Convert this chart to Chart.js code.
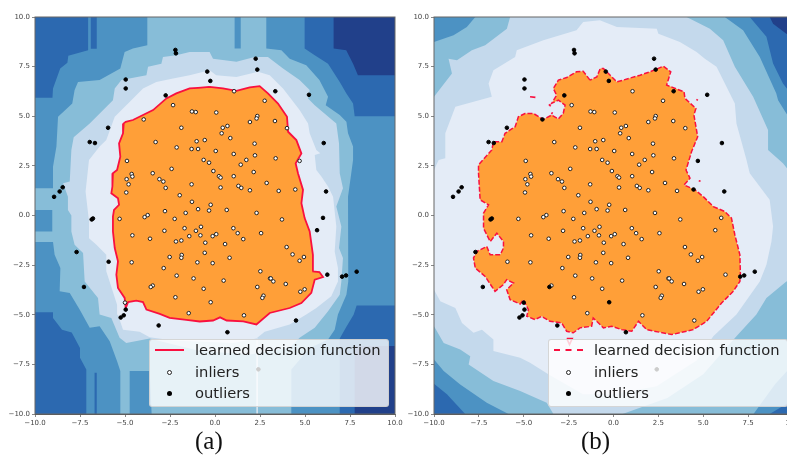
<!DOCTYPE html>
<html>
<head>
<meta charset="utf-8">
<script src="https://cdn.jsdelivr.net/npm/chart.js@4"></script>
<style>
html, body { margin: 0; background: #fff; overflow: hidden; width: 787px; height: 457px; }
canvas { position: absolute; top: 0; }
#chartA { left: 0; }
#chartB { left: 398px; }
.cap { position: absolute; top: 427px; font: 25px "Liberation Serif", serif; color: #111; }
.box { position: absolute; top: 339px; height: 66px; background: rgba(255,255,255,0.8); border: 1px solid rgba(204,204,204,0.8); border-radius: 3px; font: 14.7px "DejaVu Sans", sans-serif; color: #222; }
.row { position: absolute; left: 45px; white-space: nowrap; line-height: 20px; }
.key { position: absolute; box-sizing: border-box; }
</style>
</head>
<body>
<canvas id="chartA" width="420" height="440"></canvas>
<canvas id="chartB" width="420" height="440"></canvas>
<div class="cap" style="left:195px">(a)</div>
<div class="cap" style="left:581px">(b)</div>
<div class="box" style="left:149px;width:238px" id="boxA"></div>
<div class="box" style="left:548px;width:238px" id="boxB"></div>
<script>
var legendLabels = ['learned decision function', 'inliers', 'outliers'];
var tickValues = [-10, -7.5, -5, -2.5, 0, 2.5, 5, 7.5, 10];

// points that are the same kind in both panels
var inliersBoth = [[-2.33,5.56],[-1.28,5.24],[-1.07,5.21],[-1.87,4.42],[-3.3,3.7],[-2.13,3.43],[-1.3,3.35],[-0.94,3.35],[-1.02,3.74],[-0.57,3.8],[-4.89,2.75],[-0.63,2.8],[-0.33,2.66],[-0.09,2.24],[-2.41,2.35],[-3.46,2.13],[-4.63,2.09],[-4.59,1.96],[-4.91,1.83],[-4.8,1.57],[-3.09,1.83],[-2.87,1.71],[-2.74,1.39],[-1.3,1.57],[-4.93,1.16],[-1.96,1.02],[-1.28,0.69],[-0.24,0.54],[-2.78,0.22],[-1.63,0.13],[-0.94,0.32],[-0.33,0.25],[-3.74,0.02],[-3.91,-0.08],[-2.24,-0.17],[-5.3,-0.17],[-1.69,-0.64],[-0.78,-0.57],
[1.06,6.26],[2.76,5.78],[0.07,5.19],[2.35,5.01],[2.31,4.89],[1.94,4.71],[3.33,4.76],[0.69,4.51],[0.43,4.42],[0.37,4.14],[4,4.4],[0.85,3.9],[2.2,3.62],[0.04,3.25],[1.04,3.1],[2.22,3.03],[1.74,2.8],[3.37,2.88],[1.43,2.56],[0.22,1.98],[0.31,1.91],[1.04,1.98],[2.15,2.19],[2.87,1.64],[0.31,1.41],[1.3,1.49],[1.46,1.39],[1.94,1.27],[3.54,1.24],[0.65,0.28],[2.31,0.13],[3.72,-0.2],[1.02,-0.64],
[1.26,-0.89],[0.07,-0.94],[-0.13,-1.04],[-0.81,-1],[1.57,-1.19],[2.56,-0.89],[-0.54,-1.37],[0.56,-1.44],[-0.57,-1.88],[3.98,-1.59],[4.31,-1.96],[4.94,-2.09],[4.7,-2.28],[0.81,-2.13],[-0.13,-2.4],[2.52,-2.81],[3.06,-3.17],[3.1,-3.17],[3.24,-3.32],[0.48,-3.28],[3.93,-3.45],[2.35,-3.6],[-0.63,-3.69],[4.74,-3.84],[4.98,-3.72],[2.69,-4.04],[2.63,-4.15],[1.61,-5.03],
[-4.59,-1],[-3.61,-1.17],[-2.81,-0.77],[-2.17,-1.31],[-1.87,-1.26],[-1.43,-1.04],[-1.06,-0.77],[-2.52,-2.09],[-1.85,-1.99],[-1.87,-2.13],[-0.98,-2.36],[-4.63,-2.36],[-2.85,-2.65],[-2.13,-3.03],[-1.19,-3.17],[-3.46,-3.53],[-2.2,-4.12],[-1.46,-4.92]];
var outliersBoth = [[-2.2,8.34],[-2.17,8.17],[-0.43,7.25],[-0.26,6.78],[-4.96,6.85],[-4.96,6.4],[-2.74,6.05],[-5.94,4.42],[-6.96,3.7],[-6.67,3.65],[-8.46,1.42],[-8.63,1.21],[-8.94,0.94],[-6.78,-0.15],[-6.85,-0.2],
[2.26,7.9],[2.35,7.35],[3.35,6.26],[5.22,6.08],[6.04,3.65],[6.17,1.21],[-7.69,-1.84],[-7.28,-3.6],[-4.96,-4.74],[-5.07,-5.03],[-5.24,-5.14],[-3.13,-5.54],[7.06,-3.08],[7.28,-3.02],[7.87,-2.83],[0.69,-5.88],[2.41,-7.75]];
// points that change kind between (a) and (b)
var inlierInA = [[-3.96,4.84],[-3.57,-3.6],[-5,-4.39],[4.7,2.75],[4.46,1.31],[-0.24,-4.37]];
var outlierInA = [[-5.91,-2.33],[5.67,-0.74],[6,-0.12],[6.24,-2.98],[4.5,-5.29]];

// contour levels of panel (a)
var a_base = [[-10,10],[10,10],[10,-10],[-10,-10]];
var a_darkTL = [[-10,10],[-7.05,10],[-7.05,8.33],[-8.15,8.05],[-8.2,7.7],[-8.6,7.4],[-9,6.4],[-9.03,5.93],[-10,5.93]];
var a_darkStrip = [[-6.9,10],[-6.57,10],[-6.57,8.4],[-6.9,8.4]];
var a_darkTR = [[4.98,10],[4.98,8.41],[5.54,8.07],[6.28,7.65],[6.93,6.73],[7.3,6.15],[7.67,5.64],[7.76,5],[10,5],[10,10]];
var a_darkBR = [[7.87,-4.54],[10,-4.54],[10,-10],[6.93,-10],[6.93,-6.2],[7.3,-5.6],[7.7,-5]];
var a_darkBL = [[-10,-4.88],[-9,-4.88],[-9,-5.16],[-8.5,-5.75],[-7.96,-5.9],[-7.5,-6.67],[-7.5,-7.17],[-7.15,-7.76],[-7.15,-10],[-10,-10]];
var a_darkStrip2 = [[-6.69,-7.92],[-6.57,-7.92],[-6.57,-10],[-6.69,-10]];
var a_navyTR = [[6.59,10],[6.59,8.41],[7.29,8.33],[7.67,7.65],[7.94,7.07],[10,7.07],[10,10]];
var a_navyBR = [[7.76,-6.58],[10,-6.58],[10,-10],[7.76,-10]];
var a_sky = [[-3.76,10],[1.09,10],[1.09,8.41],[1.43,8.41],[1.43,10],[2.85,10],[2.85,8.41],[3.69,8.32],[4.15,7.9],[5.07,7.57],[5.8,6.82],[6.28,5.98],[6.15,5.56],[6.93,5.06],[7.3,4.72],[7.39,4.14],[7.67,3.47],[7.67,2.8],[7.57,2.13],[7.39,0.95],[7.43,0.12],[7.39,-1.64],[7.39,-3.32],[7.3,-3.99],[6.83,-4.99],[6.65,-5.75],[6.28,-6.25],[5.26,-6.67],[4.24,-7.76],[4.24,-10],[-3.52,-10],[-3.63,-7.84],[-4.74,-7.84],[-4.74,-10],[-5.26,-10],[-5.26,-7.84],[-5.44,-7.34],[-5.85,-6.33],[-6.41,-5.58],[-6.96,-5.66],[-7.52,-4.74],[-8.07,-3.9],[-8.63,-3.82],[-8.59,-2.65],[-8.91,-1.98],[-9,-1.34],[-10,-1.34],[-10,-0.8],[-9.04,-0.8],[-9.04,0.28],[-10,0.28],[-10,1.37],[-9,1.37],[-9,2.46],[-8.81,3.47],[-8.72,4.97],[-7.93,5.64],[-7.8,6.32],[-7.61,6.73],[-6.41,6.82],[-5.26,7.4],[-5.02,8.24],[-4.56,8.41],[-3.76,8.58]];
var a_pale = [[-7.85,3.94],[-6.96,4.64],[-5.67,5.81],[-5.57,6.4],[-5.2,6.82],[-3.81,7.07],[-3.72,7.49],[-2.98,7.65],[-2.89,7.99],[-2.15,8.07],[-1.41,8.24],[-0.3,8.24],[-0.11,7.9],[1.19,7.74],[2.2,7.99],[2.94,7.99],[3.78,7.4],[4.7,6.82],[5.26,6.32],[5.17,5.9],[5.54,5.56],[6.74,4.64],[6.89,3.63],[6.93,2.13],[7.11,1.37],[6.74,0.45],[7.02,-0.55],[6.89,-1.64],[7.11,-2.14],[7.02,-3.32],[6.93,-3.99],[6.28,-4.82],[5.54,-5.66],[4.7,-6.16],[4.15,-6.67],[1.93,-7],[-0.85,-6.83],[-3.63,-6.2],[-4.93,-6.42],[-5.3,-6.16],[-5.76,-5.16],[-6.41,-4.99],[-6.5,-4.15],[-7.24,-3.32],[-7.33,-1.89],[-7.8,-1.47],[-7.98,-0.8],[-7.98,0],[-8.17,0.28],[-8.17,0.95],[-8.44,1.62],[-8.07,1.71],[-7.98,3.3]];
var a_white = [[-7.19,1.21],[-7,2.8],[-6.41,3.47],[-6.04,3.8],[-5.57,4.97],[-4.65,5.81],[-4,6.4],[-3.26,6.73],[-2.33,6.9],[-1.41,7.07],[-0.3,7.32],[0.07,7.07],[1.19,6.98],[2.39,7.24],[3.04,7.07],[3.78,6.4],[4.7,5.31],[5.17,4.64],[5.26,4.14],[5.63,3.3],[5.85,3.13],[5.54,3.05],[5.63,2.29],[5.91,1.96],[6.28,1.46],[6.56,0.95],[6.74,-0.55],[6.65,-1.81],[6.83,-2.65],[6.83,-3.32],[6.46,-4.07],[5.63,-4.66],[5.07,-4.99],[4.15,-5.49],[2.76,-5.86],[2.3,-6.2],[1,-6.42],[-2.33,-6.3],[-3.63,-6.13],[-4.19,-5.86],[-5.11,-5.75],[-5.39,-5],[-5.44,-4.49],[-6.04,-2.81],[-6.04,-1.98],[-6.59,-1.47],[-7,-1.14],[-7,-0.3]];
var a_slit = [[2.3,-6.2],[2.38,-6.2],[2.38,-10],[2.3,-10]];
var a_boundary = [[-0.3,6.48],[-0.94,6.43],[-1.41,6.4],[-2.15,6.15],[-2.7,5.9],[-3.44,5.31],[-4,5.06],[-4.56,4.81],[-4.96,4.72],[-5.07,4.64],[-5.11,4.14],[-5.33,3.63],[-5.26,2.96],[-5.44,2.29],[-5.67,2.13],[-5.7,1.46],[-5.76,1.12],[-5.39,0.87],[-5.33,0.54],[-5.61,0.28],[-5.67,-0.05],[-5.67,-0.8],[-5.57,-1.64],[-5.39,-2.31],[-5.48,-2.98],[-5.39,-3.65],[-5.02,-4.15],[-4.96,-4.66],[-4.83,-4.36],[-4.37,-4.29],[-4,-4.36],[-3.81,-4.74],[-3.07,-4.96],[-2.52,-5.16],[-1.59,-5.26],[-0.85,-5.34],[-0.11,-5.29],[0.28,-5.13],[0.65,-5.29],[1.57,-5.33],[2.3,-5.49],[3.04,-4.91],[4.15,-4.66],[4.8,-4.41],[5.35,-3.9],[5.54,-3.23],[6,-3.1],[5.8,-2.85],[5.41,-2.81],[5.44,-1.98],[5.26,-0.8],[4.98,-0.13],[4.8,0.62],[4.89,1.29],[4.61,2.13],[4.48,2.63],[4.8,3.13],[4.52,3.8],[4.06,4.22],[4,4.97],[3.5,5.64],[2.94,6.15],[2.48,6.52],[1.93,6.45],[1.19,6.28],[0.44,6.4],[-0.3,6.48]];

// contour levels of panel (b)
var b_base = [[-10,10],[10,10],[10,-10],[-10,-10]];
var b_skyTL = [[-10,10],[-5.76,10],[-5.94,9.41],[-7.15,8.58],[-7.89,8.32],[-8.72,7.82],[-9.19,7.9],[-9,7.15],[-10,5.98]];
var b_skyTR = [[4.07,10],[5.37,9.41],[6.11,8.83],[6.76,7.49],[7.78,5.98],[8.61,4.31],[8.61,3.3],[9.44,2.63],[10,2],[10,10]];
var b_skyBL = [[-10,-5.58],[-9.46,-6.42],[-8.54,-6.75],[-7.98,-7.09],[-8.07,-7.5],[-6.69,-8.34],[-5.2,-8.84],[-3.72,-9.43],[-3.35,-10],[-10,-10]];
var b_skyBR = [[6.85,-6.08],[7.96,-4.99],[8.52,-4.15],[9.63,-3.32],[10,-3.2],[10,-10],[0.5,-10],[3,-9.2],[5,-8]];
var b_blueTL = [[-10,10],[-7.7,10],[-8.17,9.5],[-8.91,9.08],[-10,8.74]];
var b_blueTR = [[6.2,10],[7.22,9.33],[8.15,7.99],[9.07,6.15],[9.17,5.81],[9.63,5.14],[10,4.7],[10,10]];
var b_blueBL = [[-10,-7.25],[-9.46,-7.84],[-8.54,-8.51],[-7.06,-9.43],[-5.85,-10],[-10,-10]];
var b_blueBR = [[7.8,-10],[9,-8.5],[10,-7.5],[10,-10]];
var b_darkTR = [[7.59,10],[8.52,9],[8.89,7.66],[9.44,6.65],[10,6],[10,10]];
var b_darkBL = [[-10,-8.48],[-9.28,-9.01],[-8.26,-10],[-10,-10]];
var b_darkBR = [[8.7,-10],[9.63,-9.5],[10,-9],[10,-10]];
var b_navyTR = [[8.7,10],[8.89,9.66],[9.63,9.16],[10,9],[10,10]];
var b_white = [[-10,2.29],[-9.74,2.8],[-9.37,2.88],[-9.37,4.14],[-8.81,5.48],[-6.78,5.98],[-6.96,6.65],[-6.69,7.32],[-5.48,7.99],[-5.39,8.32],[-3.91,8.83],[-2.06,9.33],[-1.69,9.75],[-0.76,9.83],[0.19,9.5],[2.41,9.41],[2.5,9.16],[3.7,8.74],[4.63,8.24],[5.09,7.9],[5.74,7.49],[6.76,5.64],[6.85,4.64],[7.41,2.8],[7.59,2.13],[8.7,0.79],[8.89,-0.55],[8.8,-1.31],[8.52,-2.48],[8.15,-3.32],[6.85,-4.99],[5.56,-6.08],[4.63,-7.3],[2.4,-8.6],[0,-9],[-1.7,-9],[-3.63,-8],[-4.65,-7.42],[-5.2,-7.17],[-6.69,-6.83],[-6.69,-6.25],[-7.33,-5.75],[-7.8,-5.91],[-8.44,-5.41],[-8.81,-4.66],[-9.65,-4.32],[-10,-3.74]];
var b_boundary = [[-1.31,6.82],[-1.69,7.27],[-2.06,7.24],[-2.61,6.95],[-3.07,6.82],[-3.35,6.4],[-3.17,6.06],[-3.44,5.65],[-3.07,5.81],[-2.7,5.56],[-2.8,5.14],[-3.07,4.86],[-3.44,5.06],[-3.91,4.84],[-4.46,5.14],[-4.93,5.14],[-5.3,4.97],[-5.48,4.47],[-6.04,4.14],[-6.22,3.72],[-6.69,3.72],[-6.78,3.3],[-7.52,2.55],[-7.52,2.13],[-7.43,0.79],[-6.96,0.54],[-7.24,0.12],[-7.24,-0.64],[-6.87,-1.31],[-6.5,-0.89],[-6.13,-1.31],[-6.13,-1.64],[-6.31,-1.98],[-6.87,-1.98],[-7.06,-1.56],[-7.61,-1.81],[-7.8,-2.14],[-7.7,-2.65],[-7.15,-3.07],[-6.6,-3.82],[-6.13,-3.48],[-5.95,-3.23],[-5.57,-3.4],[-5.95,-3.74],[-5.76,-4.24],[-5.2,-4.46],[-5.02,-4.24],[-4.74,-4.74],[-4.83,-5.08],[-4.37,-5.24],[-4,-5.08],[-3.54,-5.33],[-2.89,-5.41],[-2.61,-5.83],[-2.24,-5.91],[-1.87,-5.66],[-1.22,-5.58],[-1.13,-5.16],[-0.56,-5.66],[-0.09,-5.58],[0.46,-5.75],[1.02,-5.83],[1.39,-5.33],[1.85,-5.75],[3.24,-6],[4.44,-5.75],[5.19,-5.33],[6.02,-4.41],[6.67,-3.82],[7.04,-3.32],[7.07,-2.98],[7.04,-1.98],[6.76,-0.97],[6.57,-0.13],[6.2,0.2],[5.56,0.45],[5,0.95],[4.54,1.29],[3.93,1.54],[4.26,1.88],[4.04,2.29],[4.35,3.22],[4.69,3.97],[4.48,5.06],[4.59,5.39],[3.98,5.9],[3.93,6.23],[2.96,6.57],[3.19,7.24],[2.78,7.52],[2.04,7.24],[1.48,7.07],[0.19,6.73],[-0.56,7.4],[-0.74,7.4],[-0.93,6.98],[-1.31,6.82]];
var b_islands = [[[-4.65,5.98],[-4.35,5.95]],[[-3.6,5.6],[-3.5,5.5]],[[-3.4,5.2],[-3.45,5.1]],[[4.62,5.85],[4.7,5.8]],[[4.75,1.75],[4.85,1.72]],[[-2.6,-6.2],[-2.3,-6.2],[-2.45,-6.5],[-2.6,-6.2]]];

var SKY = '#87bdd8', BLUE = '#4c92c3', DARK = '#2c69b0', NAVY = '#21408a', PALE = '#c4d9ec', WHITE = '#e4ecf7', ORANGE = '#ff9f38', RED = '#f9103f';

function xy(list) {
    return list.map(function (p) { return {x: p[0], y: p[1]}; });
}
function region(list, color, order) {
    return {data: xy(list), showLine: true, fill: 'shape', backgroundColor: color, borderWidth: 0, pointRadius: 0, order: order};
}
function dots(list, fillColor, edge, order) {
    return {data: xy(list), showLine: false, backgroundColor: fillColor, borderColor: edge, borderWidth: 1, pointRadius: 1.8, order: order};
}
function tickText(v) {
    return v.toFixed(1).replace('-', '\u2212');
}

var frame = {
    id: 'frame',
    afterDatasetsDraw: function (chart) {
        var c = chart.ctx, a = chart.chartArea;
        c.save();
        c.strokeStyle = '#666';
        c.lineWidth = 1;
        c.strokeRect(a.left, a.top, a.width, a.height);
        c.restore();
    }
};

function makeChart(id, left, datasets) {
    var axis = {
        type: 'linear', min: -10, max: 10,
        afterBuildTicks: function (s) { s.ticks = tickValues.map(function (v) { return {value: v}; }); },
        grid: {drawOnChartArea: false, tickLength: 3, color: '#555', lineWidth: 0.7},
        border: {color: '#555'},
        ticks: {
            autoSkip: false, maxRotation: 0, padding: 2, color: '#444',
            font: {family: 'DejaVu Sans', size: 7},
            callback: tickText
        }
    };
    return new Chart(document.getElementById(id).getContext('2d'), {
        type: 'scatter',
        data: {datasets: datasets},
        options: {
            responsive: false,
            animation: false,
            layout: {padding: {left: 0, top: 17, right: 25, bottom: 0}},
            plugins: {legend: {display: false}, tooltip: {enabled: false}},
            events: [],
            scales: {
                x: Object.assign({}, axis, {afterFit: function (s) { s.height = 26; }}),
                y: Object.assign({}, axis, {afterFit: function (s) { s.width = left; }})
            }
        },
        plugins: [frame]
    });
}

makeChart('chartA', 35, [
    dots(outliersBoth.concat(outlierInA), '#000', '#000', 1),
    dots(inliersBoth.concat(inlierInA), '#fff', '#222', 2),
    {data: xy(a_boundary), showLine: true, fill: 'shape', backgroundColor: ORANGE, borderColor: RED, borderWidth: 1.8, pointRadius: 0, order: 3},
    region(a_slit, '#dfe9f3', 4),
    region(a_white, WHITE, 5),
    region(a_pale, PALE, 6),
    region(a_sky, SKY, 7),
    region(a_navyTR, NAVY, 8),
    region(a_navyBR, NAVY, 8),
    region(a_darkTL, DARK, 9),
    region(a_darkStrip, DARK, 9),
    region(a_darkTR, DARK, 9),
    region(a_darkBR, DARK, 9),
    region(a_darkBL, DARK, 9),
    region(a_darkStrip2, DARK, 9),
    region(a_base, BLUE, 10)
]);

var islandSets = b_islands.map(function (list) {
    return {data: xy(list), showLine: true, borderColor: RED, borderWidth: 1.6, pointRadius: 0, order: 3};
});

makeChart('chartB', 36, [
    dots(outliersBoth.concat(inlierInA), '#000', '#000', 1),
    dots(inliersBoth.concat(outlierInA), '#fff', '#222', 2)
].concat(islandSets, [
    {data: xy(b_boundary), showLine: true, fill: 'shape', backgroundColor: ORANGE, borderColor: RED, borderWidth: 1.5, borderDash: [5, 2], pointRadius: 0, order: 4},
    region(b_white, WHITE, 5),
    region(b_navyTR, NAVY, 6),
    region(b_darkTR, DARK, 7),
    region(b_darkBL, DARK, 7),
    region(b_darkBR, DARK, 7),
    region(b_blueTL, BLUE, 8),
    region(b_blueTR, BLUE, 8),
    region(b_blueBL, BLUE, 8),
    region(b_blueBR, BLUE, 8),
    region(b_skyTL, SKY, 9),
    region(b_skyTR, SKY, 9),
    region(b_skyBL, SKY, 9),
    region(b_skyBR, SKY, 9),
    region(b_base, PALE, 10)
]));

function fillBox(id, dashed) {
    var box = document.getElementById(id);
    var rows = [0, 1, 2].map(function (i) {
        return '<div class="row" style="top:' + (i * 21.5) + 'px">' + legendLabels[i] + '</div>';
    }).join('');
    var line = '<div class="key" style="left:5px;top:9px;width:29px;border-top:2px ' + (dashed ? 'dashed' : 'solid') + ' ' + RED + '"></div>';
    var open = '<div class="key" style="left:17px;top:30px;width:5px;height:5px;border-radius:50%;background:#fff;border:1px solid #222"></div>';
    var full = '<div class="key" style="left:17px;top:51px;width:5px;height:5px;border-radius:50%;background:#000"></div>';
    box.innerHTML = rows + line + open + full;
}
fillBox('boxA', false);
fillBox('boxB', true);
</script>
</body>
</html>
